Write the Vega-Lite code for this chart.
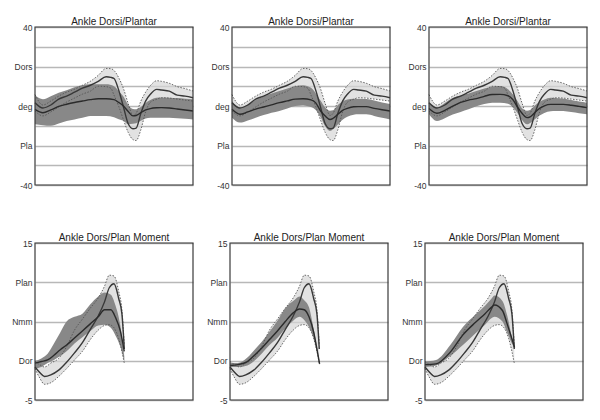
{
"$schema":"https://vega.github.io/schema/vega-lite/v6.json",
"background":"white",
"padding":{"top":16,"left":8,"right":5,"bottom":5},
"datasets":{
"tN":[
{"x":0,"lo":-2.5,"m":1.7,"hi":5.8},{"x":5,"lo":-5,"m":-1,"hi":0.5},{"x":10,"lo":-3,"m":0.5,"hi":2.5},{"x":15,"lo":-0.5,"m":3.5,"hi":5},{"x":20,"lo":2,"m":5,"hi":7},{"x":25,"lo":4,"m":7,"hi":8.5},{"x":30,"lo":6,"m":9,"hi":10.5},{"x":35,"lo":7.5,"m":10.5,"hi":12.5},{"x":40,"lo":10,"m":12.5,"hi":15.5},{"x":45,"lo":9.8,"m":14.8,"hi":19},{"x":48,"lo":9,"m":14.5,"hi":18.9},{"x":50,"lo":5.5,"m":13.9,"hi":18},{"x":53,"lo":-0.2,"m":8,"hi":14.3},{"x":56,"lo":-7,"m":-0.5,"hi":8.8},{"x":59,"lo":-13.4,"m":-9,"hi":1.2},{"x":62,"lo":-17,"m":-11.5,"hi":-4.8},{"x":64,"lo":-17.5,"m":-11.2,"hi":-3.7},{"x":67,"lo":-12,"m":-3.7,"hi":2.5},{"x":70,"lo":-3,"m":2.5,"hi":7},{"x":73,"lo":1.9,"m":5.9,"hi":10.3},{"x":77,"lo":3.4,"m":8.4,"hi":12.8},{"x":80,"lo":4.2,"m":8.1,"hi":12.5},{"x":85,"lo":4,"m":7.5,"hi":11.5},{"x":90,"lo":3.5,"m":5.5,"hi":9.8},{"x":95,"lo":3,"m":5,"hi":8.8},{"x":100,"lo":2.5,"m":4.2,"hi":7.6}
],
"tP":[
{"p":1,"x":0,"hi":5.4,"lo":-9.3,"m":-1.7},{"p":1,"x":5,"hi":3.4,"lo":-9.7,"m":-3.4},{"p":1,"x":10,"hi":5,"lo":-10,"m":-2},{"p":1,"x":15,"hi":6.7,"lo":-8.8,"m":-0.2},{"p":1,"x":20,"hi":8,"lo":-7.6,"m":0.9},{"p":1,"x":25,"hi":9.5,"lo":-6.8,"m":1.8},{"p":1,"x":30,"hi":10.5,"lo":-6,"m":2.5},{"p":1,"x":35,"hi":11,"lo":-5.1,"m":3.2},{"p":1,"x":40,"hi":11,"lo":-5,"m":3.7},{"p":1,"x":45,"hi":11,"lo":-5,"m":3.7},{"p":1,"x":50,"hi":10,"lo":-5.7,"m":3.2},{"p":1,"x":53,"hi":7.5,"lo":-6.7,"m":1.8},{"p":1,"x":56,"hi":4.8,"lo":-7.5,"m":0},{"p":1,"x":59,"hi":0.5,"lo":-9.2,"m":-2.8},{"p":1,"x":62,"hi":-1.5,"lo":-9,"m":-5},{"p":1,"x":64,"hi":-1.6,"lo":-8.7,"m":-4.8},{"p":1,"x":67,"hi":-0.5,"lo":-7.5,"m":-3.4},{"p":1,"x":70,"hi":1.5,"lo":-6.3,"m":-2},{"p":1,"x":73,"hi":3,"lo":-5.9,"m":-1.3},{"p":1,"x":77,"hi":4.2,"lo":-5.9,"m":-0.9},{"p":1,"x":80,"hi":4.3,"lo":-5.9,"m":-0.8},{"p":1,"x":85,"hi":4.2,"lo":-6,"m":-1},{"p":1,"x":90,"hi":4,"lo":-6.2,"m":-1.5},{"p":1,"x":95,"hi":3.7,"lo":-6.5,"m":-2},{"p":1,"x":100,"hi":3.4,"lo":-6.8,"m":-2.5},
{"p":2,"x":0,"hi":2.5,"lo":-5.9,"m":-1.7},{"p":2,"x":5,"hi":-0.8,"lo":-8.4,"m":-4.2},{"p":2,"x":10,"hi":0.8,"lo":-7.3,"m":-3},{"p":2,"x":15,"hi":3,"lo":-5.9,"m":-1.6},{"p":2,"x":20,"hi":4.8,"lo":-4.6,"m":-0.5},{"p":2,"x":25,"hi":6.3,"lo":-3.4,"m":0.6},{"p":2,"x":30,"hi":7.6,"lo":-2.5,"m":1.7},{"p":2,"x":35,"hi":8.8,"lo":-1.3,"m":2.6},{"p":2,"x":40,"hi":10,"lo":0,"m":3.5},{"p":2,"x":45,"hi":10.5,"lo":0.3,"m":3.7},{"p":2,"x":50,"hi":9.2,"lo":-0.5,"m":3.1},{"p":2,"x":53,"hi":6.5,"lo":-2,"m":1.6},{"p":2,"x":56,"hi":2.8,"lo":-5.5,"m":-2.4},{"p":2,"x":59,"hi":-0.7,"lo":-10.3,"m":-5.1},{"p":2,"x":62,"hi":-2.4,"lo":-12.7,"m":-6.8},{"p":2,"x":64,"hi":-2.2,"lo":-11.8,"m":-6.2},{"p":2,"x":67,"hi":0.5,"lo":-9.4,"m":-4.2},{"p":2,"x":70,"hi":2.3,"lo":-6.9,"m":-2.2},{"p":2,"x":73,"hi":3.3,"lo":-5.5,"m":-1.2},{"p":2,"x":77,"hi":3.7,"lo":-4.4,"m":-0.4},{"p":2,"x":80,"hi":3.7,"lo":-4.2,"m":-0.3},{"p":2,"x":85,"hi":3.6,"lo":-4.2,"m":-0.3},{"p":2,"x":90,"hi":2.8,"lo":-5,"m":-1.2},{"p":2,"x":95,"hi":1.8,"lo":-6,"m":-1.9},{"p":2,"x":100,"hi":1,"lo":-6.8,"m":-2.5},
{"p":3,"x":0,"hi":1.7,"lo":-4.2,"m":-1.3},{"p":3,"x":5,"hi":-0.8,"lo":-7.6,"m":-3.7},{"p":3,"x":10,"hi":1.5,"lo":-6.2,"m":-2.2},{"p":3,"x":15,"hi":4,"lo":-4.3,"m":-0.1},{"p":3,"x":20,"hi":5.3,"lo":-3,"m":1.8},{"p":3,"x":25,"hi":6.3,"lo":-1.7,"m":3},{"p":3,"x":30,"hi":7.6,"lo":-0.1,"m":3.7},{"p":3,"x":35,"hi":8.8,"lo":1,"m":4.9},{"p":3,"x":40,"hi":9.8,"lo":1.6,"m":5.8},{"p":3,"x":45,"hi":10.1,"lo":1.7,"m":5.9},{"p":3,"x":50,"hi":8.5,"lo":1.2,"m":5.2},{"p":3,"x":53,"hi":6,"lo":-0.5,"m":3.3},{"p":3,"x":56,"hi":2.5,"lo":-3.5,"m":-0.5},{"p":3,"x":59,"hi":-1.3,"lo":-7.2,"m":-3.8},{"p":3,"x":62,"hi":-2.4,"lo":-9.3,"m":-5.9},{"p":3,"x":64,"hi":-2,"lo":-8.6,"m":-5.5},{"p":3,"x":67,"hi":0.2,"lo":-6.7,"m":-3.3},{"p":3,"x":70,"hi":2.2,"lo":-4.8,"m":-1.2},{"p":3,"x":73,"hi":3.3,"lo":-3.5,"m":0.1},{"p":3,"x":77,"hi":4.2,"lo":-2.6,"m":0.8},{"p":3,"x":80,"hi":4.1,"lo":-2.5,"m":0.8},{"p":3,"x":85,"hi":3.8,"lo":-2.5,"m":0.8},{"p":3,"x":90,"hi":3,"lo":-3.1,"m":0.4},{"p":3,"x":95,"hi":2.3,"lo":-3.7,"m":-0.2},{"p":3,"x":100,"hi":1.7,"lo":-4.2,"m":-0.8}
],
"bN":[
{"x":0,"lo":-1,"m":-0.8,"hi":-0.1},{"x":3,"lo":-2.2,"m":-1.5,"hi":-0.5},{"x":6,"lo":-3,"m":-2,"hi":-0.8},{"x":10,"lo":-2.8,"m":-1.8,"hi":-0.3},{"x":15,"lo":-2,"m":-1.2,"hi":0.3},{"x":20,"lo":-1,"m":-0.2,"hi":1.8},{"x":25,"lo":0.1,"m":1,"hi":3.9},{"x":30,"lo":1.2,"m":2.3,"hi":5.3},{"x":35,"lo":2.7,"m":4,"hi":6.7},{"x":40,"lo":3.9,"m":5.7,"hi":8},{"x":44,"lo":4.5,"m":7.5,"hi":9.5},{"x":47,"lo":4.6,"m":9.3,"hi":10.9},{"x":50,"lo":4.2,"m":9.8,"hi":10.8},{"x":53,"lo":2.8,"m":7.9,"hi":8.8},{"x":55,"lo":1.2,"m":6,"hi":6.5},{"x":56.5,"lo":-0.3,"m":1.5,"hi":2}
],
"bP":[
{"p":1,"x":0,"hi":0,"lo":-1,"m":-0.3},{"p":1,"x":4,"hi":0.3,"lo":-0.8,"m":-0.1},{"p":1,"x":8,"hi":0.9,"lo":-0.3,"m":0.1},{"p":1,"x":12,"hi":2.2,"lo":0.1,"m":0.7},{"p":1,"x":16,"hi":3.6,"lo":0.6,"m":1.4},{"p":1,"x":20,"hi":5,"lo":1.2,"m":2},{"p":1,"x":25,"hi":5.6,"lo":2.2,"m":2.9},{"p":1,"x":30,"hi":6,"lo":3,"m":3.8},{"p":1,"x":35,"hi":7.2,"lo":3.8,"m":4.7},{"p":1,"x":40,"hi":8.2,"lo":4.5,"m":5.6},{"p":1,"x":44,"hi":8.7,"lo":4.6,"m":6.5},{"p":1,"x":48,"hi":8.4,"lo":4.2,"m":6.5},{"p":1,"x":51,"hi":7,"lo":3.2,"m":5.5},{"p":1,"x":54,"hi":4.5,"lo":1.8,"m":3.8},{"p":1,"x":56.5,"hi":0.5,"lo":-0.1,"m":1.2},
{"p":2,"x":0,"hi":-0.3,"lo":-0.8,"m":-0.6},{"p":2,"x":5,"hi":-0.3,"lo":-0.8,"m":-0.5},{"p":2,"x":11,"hi":0.4,"lo":-0.6,"m":-0.1},{"p":2,"x":16,"hi":1.5,"lo":0.1,"m":0.8},{"p":2,"x":20,"hi":2.4,"lo":0.9,"m":1.6},{"p":2,"x":25,"hi":3.7,"lo":2,"m":2.7},{"p":2,"x":30,"hi":5.1,"lo":2.9,"m":3.8},{"p":2,"x":35,"hi":6.7,"lo":4.1,"m":5},{"p":2,"x":40,"hi":7.6,"lo":5.1,"m":6.1},{"p":2,"x":44,"hi":8.2,"lo":5.6,"m":6.6},{"p":2,"x":47,"hi":7.7,"lo":5.2,"m":6.5},{"p":2,"x":50,"hi":6.8,"lo":4.3,"m":5.6},{"p":2,"x":53,"hi":4,"lo":2.8,"m":3.6},{"p":2,"x":55,"hi":1.8,"lo":1.2,"m":1.5},{"p":2,"x":56.7,"hi":-0.2,"lo":-0.6,"m":-0.4},
{"p":3,"x":0,"hi":-0.1,"lo":-0.8,"m":-0.5},{"p":3,"x":7,"hi":0.1,"lo":-0.6,"m":-0.4},{"p":3,"x":16,"hi":2,"lo":0.6,"m":1.1},{"p":3,"x":24,"hi":4.3,"lo":2,"m":3.3},{"p":3,"x":32,"hi":5.9,"lo":3.5,"m":4.9},{"p":3,"x":38,"hi":7,"lo":4.6,"m":6},{"p":3,"x":42,"hi":7.9,"lo":5.4,"m":6.8},{"p":3,"x":44,"hi":8.3,"lo":5.6,"m":7.1},{"p":3,"x":49,"hi":7.6,"lo":5,"m":6.4},{"p":3,"x":52,"hi":5.8,"lo":3.6,"m":4.7},{"p":3,"x":55,"hi":3,"lo":2.2,"m":2.8},{"p":3,"x":56.7,"hi":1.6,"lo":1.6,"m":1.7}
]
},
"spacing":42,
"vconcat":[
{"spacing":9,"hconcat":[
{"title":"Ankle Dorsi/Plantar","width":158,"height":158,"layer":[
{"data":{"name":"tN"},"mark":{"type":"area","interpolate":"monotone","color":"#d6d6d6","opacity":0.7},"encoding":{"x":{"field":"x","type":"quantitative","scale":{"domain":[0,100]},"axis":null},"y":{"field":"lo","type":"quantitative","title":null,"scale":{"domain":[-40,40],"nice":false},"axis":{"values":[-40,-30,-20,-10,0,10,20,30,40],"labelExpr":"datum.value==40?'40':datum.value==20?'Dors':datum.value==0?'deg':datum.value==-20?'Pla':datum.value==-40?'-40':''"}},"y2":{"field":"hi"}}},
{"data":{"name":"tP"},"transform":[{"filter":"datum.p==1"}],"mark":{"type":"area","interpolate":"monotone","color":"#888888"},"encoding":{"x":{"field":"x","type":"quantitative","scale":{"domain":[0,100]},"axis":null},"y":{"field":"lo","type":"quantitative","title":null,"scale":{"domain":[-40,40],"nice":false},"axis":{"values":[-40,-30,-20,-10,0,10,20,30,40],"labelExpr":"datum.value==40?'40':datum.value==20?'Dors':datum.value==0?'deg':datum.value==-20?'Pla':datum.value==-40?'-40':''"}},"y2":{"field":"hi"}}},
{"data":{"name":"tN"},"mark":{"type":"line","interpolate":"monotone","color":"#555","strokeWidth":0.9,"strokeDash":[1.5,1.5]},"encoding":{"x":{"field":"x","type":"quantitative","scale":{"domain":[0,100]},"axis":null},"y":{"field":"hi","type":"quantitative","title":null,"scale":{"domain":[-40,40],"nice":false},"axis":{"values":[-40,-30,-20,-10,0,10,20,30,40],"labelExpr":"datum.value==40?'40':datum.value==20?'Dors':datum.value==0?'deg':datum.value==-20?'Pla':datum.value==-40?'-40':''"}}}},
{"data":{"name":"tN"},"mark":{"type":"line","interpolate":"monotone","color":"#555","strokeWidth":0.9,"strokeDash":[1.5,1.5]},"encoding":{"x":{"field":"x","type":"quantitative","scale":{"domain":[0,100]},"axis":null},"y":{"field":"lo","type":"quantitative","title":null,"scale":{"domain":[-40,40],"nice":false},"axis":{"values":[-40,-30,-20,-10,0,10,20,30,40],"labelExpr":"datum.value==40?'40':datum.value==20?'Dors':datum.value==0?'deg':datum.value==-20?'Pla':datum.value==-40?'-40':''"}}}},
{"data":{"name":"tN"},"mark":{"type":"line","interpolate":"monotone","color":"#383838","strokeWidth":1.4},"encoding":{"x":{"field":"x","type":"quantitative","scale":{"domain":[0,100]},"axis":null},"y":{"field":"m","type":"quantitative","title":null,"scale":{"domain":[-40,40],"nice":false},"axis":{"values":[-40,-30,-20,-10,0,10,20,30,40],"labelExpr":"datum.value==40?'40':datum.value==20?'Dors':datum.value==0?'deg':datum.value==-20?'Pla':datum.value==-40?'-40':''"}}}},
{"data":{"name":"tP"},"transform":[{"filter":"datum.p==1"}],"mark":{"type":"line","interpolate":"monotone","color":"#2b2b2b","strokeWidth":1.4},"encoding":{"x":{"field":"x","type":"quantitative","scale":{"domain":[0,100]},"axis":null},"y":{"field":"m","type":"quantitative","title":null,"scale":{"domain":[-40,40],"nice":false},"axis":{"values":[-40,-30,-20,-10,0,10,20,30,40],"labelExpr":"datum.value==40?'40':datum.value==20?'Dors':datum.value==0?'deg':datum.value==-20?'Pla':datum.value==-40?'-40':''"}}}},
{"data":{"name":"tN"},"transform":[{"filter":"datum.x==0"}],"mark":{"type":"rect","filled":false,"color":"#3a3a3a","strokeWidth":1.2},"encoding":{"x":{"datum":0,"type":"quantitative","scale":{"domain":[0,100]},"axis":null},"x2":{"datum":100},"y":{"datum":-40,"type":"quantitative","title":null,"scale":{"domain":[-40,40],"nice":false},"axis":{"values":[-40,-30,-20,-10,0,10,20,30,40],"labelExpr":"datum.value==40?'40':datum.value==20?'Dors':datum.value==0?'deg':datum.value==-20?'Pla':datum.value==-40?'-40':''"}},"y2":{"datum":40}}}
]},
{"title":"Ankle Dorsi/Plantar","width":158,"height":158,"layer":[
{"data":{"name":"tN"},"mark":{"type":"area","interpolate":"monotone","color":"#d6d6d6","opacity":0.7},"encoding":{"x":{"field":"x","type":"quantitative","scale":{"domain":[0,100]},"axis":null},"y":{"field":"lo","type":"quantitative","title":null,"scale":{"domain":[-40,40],"nice":false},"axis":{"values":[-40,-30,-20,-10,0,10,20,30,40],"labelExpr":"datum.value==40?'40':datum.value==20?'Dors':datum.value==0?'deg':datum.value==-20?'Pla':datum.value==-40?'-40':''"}},"y2":{"field":"hi"}}},
{"data":{"name":"tP"},"transform":[{"filter":"datum.p==2"}],"mark":{"type":"area","interpolate":"monotone","color":"#888888"},"encoding":{"x":{"field":"x","type":"quantitative","scale":{"domain":[0,100]},"axis":null},"y":{"field":"lo","type":"quantitative","title":null,"scale":{"domain":[-40,40],"nice":false},"axis":{"values":[-40,-30,-20,-10,0,10,20,30,40],"labelExpr":"datum.value==40?'40':datum.value==20?'Dors':datum.value==0?'deg':datum.value==-20?'Pla':datum.value==-40?'-40':''"}},"y2":{"field":"hi"}}},
{"data":{"name":"tN"},"mark":{"type":"line","interpolate":"monotone","color":"#555","strokeWidth":0.9,"strokeDash":[1.5,1.5]},"encoding":{"x":{"field":"x","type":"quantitative","scale":{"domain":[0,100]},"axis":null},"y":{"field":"hi","type":"quantitative","title":null,"scale":{"domain":[-40,40],"nice":false},"axis":{"values":[-40,-30,-20,-10,0,10,20,30,40],"labelExpr":"datum.value==40?'40':datum.value==20?'Dors':datum.value==0?'deg':datum.value==-20?'Pla':datum.value==-40?'-40':''"}}}},
{"data":{"name":"tN"},"mark":{"type":"line","interpolate":"monotone","color":"#555","strokeWidth":0.9,"strokeDash":[1.5,1.5]},"encoding":{"x":{"field":"x","type":"quantitative","scale":{"domain":[0,100]},"axis":null},"y":{"field":"lo","type":"quantitative","title":null,"scale":{"domain":[-40,40],"nice":false},"axis":{"values":[-40,-30,-20,-10,0,10,20,30,40],"labelExpr":"datum.value==40?'40':datum.value==20?'Dors':datum.value==0?'deg':datum.value==-20?'Pla':datum.value==-40?'-40':''"}}}},
{"data":{"name":"tN"},"mark":{"type":"line","interpolate":"monotone","color":"#383838","strokeWidth":1.4},"encoding":{"x":{"field":"x","type":"quantitative","scale":{"domain":[0,100]},"axis":null},"y":{"field":"m","type":"quantitative","title":null,"scale":{"domain":[-40,40],"nice":false},"axis":{"values":[-40,-30,-20,-10,0,10,20,30,40],"labelExpr":"datum.value==40?'40':datum.value==20?'Dors':datum.value==0?'deg':datum.value==-20?'Pla':datum.value==-40?'-40':''"}}}},
{"data":{"name":"tP"},"transform":[{"filter":"datum.p==2"}],"mark":{"type":"line","interpolate":"monotone","color":"#2b2b2b","strokeWidth":1.4},"encoding":{"x":{"field":"x","type":"quantitative","scale":{"domain":[0,100]},"axis":null},"y":{"field":"m","type":"quantitative","title":null,"scale":{"domain":[-40,40],"nice":false},"axis":{"values":[-40,-30,-20,-10,0,10,20,30,40],"labelExpr":"datum.value==40?'40':datum.value==20?'Dors':datum.value==0?'deg':datum.value==-20?'Pla':datum.value==-40?'-40':''"}}}},
{"data":{"name":"tN"},"transform":[{"filter":"datum.x==0"}],"mark":{"type":"rect","filled":false,"color":"#3a3a3a","strokeWidth":1.2},"encoding":{"x":{"datum":0,"type":"quantitative","scale":{"domain":[0,100]},"axis":null},"x2":{"datum":100},"y":{"datum":-40,"type":"quantitative","title":null,"scale":{"domain":[-40,40],"nice":false},"axis":{"values":[-40,-30,-20,-10,0,10,20,30,40],"labelExpr":"datum.value==40?'40':datum.value==20?'Dors':datum.value==0?'deg':datum.value==-20?'Pla':datum.value==-40?'-40':''"}},"y2":{"datum":40}}}
]},
{"title":"Ankle Dorsi/Plantar","width":158,"height":158,"layer":[
{"data":{"name":"tN"},"mark":{"type":"area","interpolate":"monotone","color":"#d6d6d6","opacity":0.7},"encoding":{"x":{"field":"x","type":"quantitative","scale":{"domain":[0,100]},"axis":null},"y":{"field":"lo","type":"quantitative","title":null,"scale":{"domain":[-40,40],"nice":false},"axis":{"values":[-40,-30,-20,-10,0,10,20,30,40],"labelExpr":"datum.value==40?'40':datum.value==20?'Dors':datum.value==0?'deg':datum.value==-20?'Pla':datum.value==-40?'-40':''"}},"y2":{"field":"hi"}}},
{"data":{"name":"tP"},"transform":[{"filter":"datum.p==3"}],"mark":{"type":"area","interpolate":"monotone","color":"#888888"},"encoding":{"x":{"field":"x","type":"quantitative","scale":{"domain":[0,100]},"axis":null},"y":{"field":"lo","type":"quantitative","title":null,"scale":{"domain":[-40,40],"nice":false},"axis":{"values":[-40,-30,-20,-10,0,10,20,30,40],"labelExpr":"datum.value==40?'40':datum.value==20?'Dors':datum.value==0?'deg':datum.value==-20?'Pla':datum.value==-40?'-40':''"}},"y2":{"field":"hi"}}},
{"data":{"name":"tN"},"mark":{"type":"line","interpolate":"monotone","color":"#555","strokeWidth":0.9,"strokeDash":[1.5,1.5]},"encoding":{"x":{"field":"x","type":"quantitative","scale":{"domain":[0,100]},"axis":null},"y":{"field":"hi","type":"quantitative","title":null,"scale":{"domain":[-40,40],"nice":false},"axis":{"values":[-40,-30,-20,-10,0,10,20,30,40],"labelExpr":"datum.value==40?'40':datum.value==20?'Dors':datum.value==0?'deg':datum.value==-20?'Pla':datum.value==-40?'-40':''"}}}},
{"data":{"name":"tN"},"mark":{"type":"line","interpolate":"monotone","color":"#555","strokeWidth":0.9,"strokeDash":[1.5,1.5]},"encoding":{"x":{"field":"x","type":"quantitative","scale":{"domain":[0,100]},"axis":null},"y":{"field":"lo","type":"quantitative","title":null,"scale":{"domain":[-40,40],"nice":false},"axis":{"values":[-40,-30,-20,-10,0,10,20,30,40],"labelExpr":"datum.value==40?'40':datum.value==20?'Dors':datum.value==0?'deg':datum.value==-20?'Pla':datum.value==-40?'-40':''"}}}},
{"data":{"name":"tN"},"mark":{"type":"line","interpolate":"monotone","color":"#383838","strokeWidth":1.4},"encoding":{"x":{"field":"x","type":"quantitative","scale":{"domain":[0,100]},"axis":null},"y":{"field":"m","type":"quantitative","title":null,"scale":{"domain":[-40,40],"nice":false},"axis":{"values":[-40,-30,-20,-10,0,10,20,30,40],"labelExpr":"datum.value==40?'40':datum.value==20?'Dors':datum.value==0?'deg':datum.value==-20?'Pla':datum.value==-40?'-40':''"}}}},
{"data":{"name":"tP"},"transform":[{"filter":"datum.p==3"}],"mark":{"type":"line","interpolate":"monotone","color":"#2b2b2b","strokeWidth":1.4},"encoding":{"x":{"field":"x","type":"quantitative","scale":{"domain":[0,100]},"axis":null},"y":{"field":"m","type":"quantitative","title":null,"scale":{"domain":[-40,40],"nice":false},"axis":{"values":[-40,-30,-20,-10,0,10,20,30,40],"labelExpr":"datum.value==40?'40':datum.value==20?'Dors':datum.value==0?'deg':datum.value==-20?'Pla':datum.value==-40?'-40':''"}}}},
{"data":{"name":"tN"},"transform":[{"filter":"datum.x==0"}],"mark":{"type":"rect","filled":false,"color":"#3a3a3a","strokeWidth":1.2},"encoding":{"x":{"datum":0,"type":"quantitative","scale":{"domain":[0,100]},"axis":null},"x2":{"datum":100},"y":{"datum":-40,"type":"quantitative","title":null,"scale":{"domain":[-40,40],"nice":false},"axis":{"values":[-40,-30,-20,-10,0,10,20,30,40],"labelExpr":"datum.value==40?'40':datum.value==20?'Dors':datum.value==0?'deg':datum.value==-20?'Pla':datum.value==-40?'-40':''"}},"y2":{"datum":40}}}
]}
]},
{"spacing":9,"hconcat":[
{"title":"Ankle Dors/Plan Moment","width":158,"height":157,"layer":[
{"data":{"name":"bN"},"mark":{"type":"area","interpolate":"monotone","color":"#d6d6d6","opacity":0.7},"encoding":{"x":{"field":"x","type":"quantitative","scale":{"domain":[0,100]},"axis":null},"y":{"field":"lo","type":"quantitative","title":null,"scale":{"domain":[-5,15],"nice":false},"axis":{"values":[-5,0,5,10,15],"labelExpr":"datum.value==15?'15':datum.value==10?'Plan':datum.value==5?'Nmm':datum.value==0?'Dor':'-5'"}},"y2":{"field":"hi"}}},
{"data":{"name":"bP"},"transform":[{"filter":"datum.p==1"}],"mark":{"type":"area","interpolate":"monotone","color":"#888888"},"encoding":{"x":{"field":"x","type":"quantitative","scale":{"domain":[0,100]},"axis":null},"y":{"field":"lo","type":"quantitative","title":null,"scale":{"domain":[-5,15],"nice":false},"axis":{"values":[-5,0,5,10,15],"labelExpr":"datum.value==15?'15':datum.value==10?'Plan':datum.value==5?'Nmm':datum.value==0?'Dor':'-5'"}},"y2":{"field":"hi"}}},
{"data":{"name":"bN"},"mark":{"type":"line","interpolate":"monotone","color":"#555","strokeWidth":0.9,"strokeDash":[1.5,1.5]},"encoding":{"x":{"field":"x","type":"quantitative","scale":{"domain":[0,100]},"axis":null},"y":{"field":"hi","type":"quantitative","title":null,"scale":{"domain":[-5,15],"nice":false},"axis":{"values":[-5,0,5,10,15],"labelExpr":"datum.value==15?'15':datum.value==10?'Plan':datum.value==5?'Nmm':datum.value==0?'Dor':'-5'"}}}},
{"data":{"name":"bN"},"mark":{"type":"line","interpolate":"monotone","color":"#555","strokeWidth":0.9,"strokeDash":[1.5,1.5]},"encoding":{"x":{"field":"x","type":"quantitative","scale":{"domain":[0,100]},"axis":null},"y":{"field":"lo","type":"quantitative","title":null,"scale":{"domain":[-5,15],"nice":false},"axis":{"values":[-5,0,5,10,15],"labelExpr":"datum.value==15?'15':datum.value==10?'Plan':datum.value==5?'Nmm':datum.value==0?'Dor':'-5'"}}}},
{"data":{"name":"bN"},"mark":{"type":"line","interpolate":"monotone","color":"#383838","strokeWidth":1.4},"encoding":{"x":{"field":"x","type":"quantitative","scale":{"domain":[0,100]},"axis":null},"y":{"field":"m","type":"quantitative","title":null,"scale":{"domain":[-5,15],"nice":false},"axis":{"values":[-5,0,5,10,15],"labelExpr":"datum.value==15?'15':datum.value==10?'Plan':datum.value==5?'Nmm':datum.value==0?'Dor':'-5'"}}}},
{"data":{"name":"bP"},"transform":[{"filter":"datum.p==1"}],"mark":{"type":"line","interpolate":"monotone","color":"#2b2b2b","strokeWidth":1.4},"encoding":{"x":{"field":"x","type":"quantitative","scale":{"domain":[0,100]},"axis":null},"y":{"field":"m","type":"quantitative","title":null,"scale":{"domain":[-5,15],"nice":false},"axis":{"values":[-5,0,5,10,15],"labelExpr":"datum.value==15?'15':datum.value==10?'Plan':datum.value==5?'Nmm':datum.value==0?'Dor':'-5'"}}}},
{"data":{"name":"bN"},"transform":[{"filter":"datum.x==0"}],"mark":{"type":"rect","filled":false,"color":"#3a3a3a","strokeWidth":1.2},"encoding":{"x":{"datum":0,"type":"quantitative","scale":{"domain":[0,100]},"axis":null},"x2":{"datum":100},"y":{"datum":-5,"type":"quantitative","title":null,"scale":{"domain":[-5,15],"nice":false},"axis":{"values":[-5,0,5,10,15],"labelExpr":"datum.value==15?'15':datum.value==10?'Plan':datum.value==5?'Nmm':datum.value==0?'Dor':'-5'"}},"y2":{"datum":15}}}
]},
{"title":"Ankle Dors/Plan Moment","width":158,"height":157,"layer":[
{"data":{"name":"bN"},"mark":{"type":"area","interpolate":"monotone","color":"#d6d6d6","opacity":0.7},"encoding":{"x":{"field":"x","type":"quantitative","scale":{"domain":[0,100]},"axis":null},"y":{"field":"lo","type":"quantitative","title":null,"scale":{"domain":[-5,15],"nice":false},"axis":{"values":[-5,0,5,10,15],"labelExpr":"datum.value==15?'15':datum.value==10?'Plan':datum.value==5?'Nmm':datum.value==0?'Dor':'-5'"}},"y2":{"field":"hi"}}},
{"data":{"name":"bP"},"transform":[{"filter":"datum.p==2"}],"mark":{"type":"area","interpolate":"monotone","color":"#888888"},"encoding":{"x":{"field":"x","type":"quantitative","scale":{"domain":[0,100]},"axis":null},"y":{"field":"lo","type":"quantitative","title":null,"scale":{"domain":[-5,15],"nice":false},"axis":{"values":[-5,0,5,10,15],"labelExpr":"datum.value==15?'15':datum.value==10?'Plan':datum.value==5?'Nmm':datum.value==0?'Dor':'-5'"}},"y2":{"field":"hi"}}},
{"data":{"name":"bN"},"mark":{"type":"line","interpolate":"monotone","color":"#555","strokeWidth":0.9,"strokeDash":[1.5,1.5]},"encoding":{"x":{"field":"x","type":"quantitative","scale":{"domain":[0,100]},"axis":null},"y":{"field":"hi","type":"quantitative","title":null,"scale":{"domain":[-5,15],"nice":false},"axis":{"values":[-5,0,5,10,15],"labelExpr":"datum.value==15?'15':datum.value==10?'Plan':datum.value==5?'Nmm':datum.value==0?'Dor':'-5'"}}}},
{"data":{"name":"bN"},"mark":{"type":"line","interpolate":"monotone","color":"#555","strokeWidth":0.9,"strokeDash":[1.5,1.5]},"encoding":{"x":{"field":"x","type":"quantitative","scale":{"domain":[0,100]},"axis":null},"y":{"field":"lo","type":"quantitative","title":null,"scale":{"domain":[-5,15],"nice":false},"axis":{"values":[-5,0,5,10,15],"labelExpr":"datum.value==15?'15':datum.value==10?'Plan':datum.value==5?'Nmm':datum.value==0?'Dor':'-5'"}}}},
{"data":{"name":"bN"},"mark":{"type":"line","interpolate":"monotone","color":"#383838","strokeWidth":1.4},"encoding":{"x":{"field":"x","type":"quantitative","scale":{"domain":[0,100]},"axis":null},"y":{"field":"m","type":"quantitative","title":null,"scale":{"domain":[-5,15],"nice":false},"axis":{"values":[-5,0,5,10,15],"labelExpr":"datum.value==15?'15':datum.value==10?'Plan':datum.value==5?'Nmm':datum.value==0?'Dor':'-5'"}}}},
{"data":{"name":"bP"},"transform":[{"filter":"datum.p==2"}],"mark":{"type":"line","interpolate":"monotone","color":"#2b2b2b","strokeWidth":1.4},"encoding":{"x":{"field":"x","type":"quantitative","scale":{"domain":[0,100]},"axis":null},"y":{"field":"m","type":"quantitative","title":null,"scale":{"domain":[-5,15],"nice":false},"axis":{"values":[-5,0,5,10,15],"labelExpr":"datum.value==15?'15':datum.value==10?'Plan':datum.value==5?'Nmm':datum.value==0?'Dor':'-5'"}}}},
{"data":{"name":"bN"},"transform":[{"filter":"datum.x==0"}],"mark":{"type":"rect","filled":false,"color":"#3a3a3a","strokeWidth":1.2},"encoding":{"x":{"datum":0,"type":"quantitative","scale":{"domain":[0,100]},"axis":null},"x2":{"datum":100},"y":{"datum":-5,"type":"quantitative","title":null,"scale":{"domain":[-5,15],"nice":false},"axis":{"values":[-5,0,5,10,15],"labelExpr":"datum.value==15?'15':datum.value==10?'Plan':datum.value==5?'Nmm':datum.value==0?'Dor':'-5'"}},"y2":{"datum":15}}}
]},
{"title":"Ankle Dors/Plan Moment","width":158,"height":157,"layer":[
{"data":{"name":"bN"},"mark":{"type":"area","interpolate":"monotone","color":"#d6d6d6","opacity":0.7},"encoding":{"x":{"field":"x","type":"quantitative","scale":{"domain":[0,100]},"axis":null},"y":{"field":"lo","type":"quantitative","title":null,"scale":{"domain":[-5,15],"nice":false},"axis":{"values":[-5,0,5,10,15],"labelExpr":"datum.value==15?'15':datum.value==10?'Plan':datum.value==5?'Nmm':datum.value==0?'Dor':'-5'"}},"y2":{"field":"hi"}}},
{"data":{"name":"bP"},"transform":[{"filter":"datum.p==3"}],"mark":{"type":"area","interpolate":"monotone","color":"#888888"},"encoding":{"x":{"field":"x","type":"quantitative","scale":{"domain":[0,100]},"axis":null},"y":{"field":"lo","type":"quantitative","title":null,"scale":{"domain":[-5,15],"nice":false},"axis":{"values":[-5,0,5,10,15],"labelExpr":"datum.value==15?'15':datum.value==10?'Plan':datum.value==5?'Nmm':datum.value==0?'Dor':'-5'"}},"y2":{"field":"hi"}}},
{"data":{"name":"bN"},"mark":{"type":"line","interpolate":"monotone","color":"#555","strokeWidth":0.9,"strokeDash":[1.5,1.5]},"encoding":{"x":{"field":"x","type":"quantitative","scale":{"domain":[0,100]},"axis":null},"y":{"field":"hi","type":"quantitative","title":null,"scale":{"domain":[-5,15],"nice":false},"axis":{"values":[-5,0,5,10,15],"labelExpr":"datum.value==15?'15':datum.value==10?'Plan':datum.value==5?'Nmm':datum.value==0?'Dor':'-5'"}}}},
{"data":{"name":"bN"},"mark":{"type":"line","interpolate":"monotone","color":"#555","strokeWidth":0.9,"strokeDash":[1.5,1.5]},"encoding":{"x":{"field":"x","type":"quantitative","scale":{"domain":[0,100]},"axis":null},"y":{"field":"lo","type":"quantitative","title":null,"scale":{"domain":[-5,15],"nice":false},"axis":{"values":[-5,0,5,10,15],"labelExpr":"datum.value==15?'15':datum.value==10?'Plan':datum.value==5?'Nmm':datum.value==0?'Dor':'-5'"}}}},
{"data":{"name":"bN"},"mark":{"type":"line","interpolate":"monotone","color":"#383838","strokeWidth":1.4},"encoding":{"x":{"field":"x","type":"quantitative","scale":{"domain":[0,100]},"axis":null},"y":{"field":"m","type":"quantitative","title":null,"scale":{"domain":[-5,15],"nice":false},"axis":{"values":[-5,0,5,10,15],"labelExpr":"datum.value==15?'15':datum.value==10?'Plan':datum.value==5?'Nmm':datum.value==0?'Dor':'-5'"}}}},
{"data":{"name":"bP"},"transform":[{"filter":"datum.p==3"}],"mark":{"type":"line","interpolate":"monotone","color":"#2b2b2b","strokeWidth":1.4},"encoding":{"x":{"field":"x","type":"quantitative","scale":{"domain":[0,100]},"axis":null},"y":{"field":"m","type":"quantitative","title":null,"scale":{"domain":[-5,15],"nice":false},"axis":{"values":[-5,0,5,10,15],"labelExpr":"datum.value==15?'15':datum.value==10?'Plan':datum.value==5?'Nmm':datum.value==0?'Dor':'-5'"}}}},
{"data":{"name":"bN"},"transform":[{"filter":"datum.x==0"}],"mark":{"type":"rect","filled":false,"color":"#3a3a3a","strokeWidth":1.2},"encoding":{"x":{"datum":0,"type":"quantitative","scale":{"domain":[0,100]},"axis":null},"x2":{"datum":100},"y":{"datum":-5,"type":"quantitative","title":null,"scale":{"domain":[-5,15],"nice":false},"axis":{"values":[-5,0,5,10,15],"labelExpr":"datum.value==15?'15':datum.value==10?'Plan':datum.value==5?'Nmm':datum.value==0?'Dor':'-5'"}},"y2":{"datum":15}}}
]}
]}
],
"config":{
"view":{"stroke":null},
"axis":{"grid":true,"gridColor":"#b8b8b8","gridWidth":1.5,"domain":false,"ticks":false,"labelPadding":3,"labelFontSize":8.5,"labelColor":"#333","labelFont":"Liberation Sans","minExtent":27,"maxExtent":27},
"title":{"fontSize":10,"font":"Liberation Sans","fontWeight":"normal","color":"#222","offset":-3.5}
}
}
